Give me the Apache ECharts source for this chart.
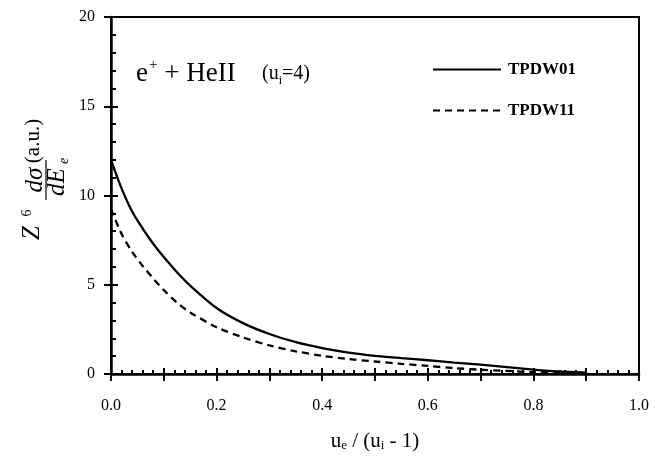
<!DOCTYPE html>
<html>
<head>
<meta charset="utf-8">
<script src="https://cdn.jsdelivr.net/npm/echarts@6/dist/echarts.min.js"></script>
<style>
  html, body { margin: 0; padding: 0; background: #fff; }
  #chartContainer { width: 655px; height: 457px; }
</style>
</head>
<body>
<div id="chartContainer"></div>
<script>
// 数据
const xValues = [0, 0.02, 0.04, 0.06, 0.08, 0.1, 0.125, 0.15, 0.2, 0.25, 0.3, 0.35, 0.4, 0.45, 0.5, 0.55, 0.6, 0.65, 0.7, 0.75, 0.8, 0.85, 0.9];
const tpdw01 = [12.0, 10.4, 9.1, 8.15, 7.3, 6.55, 5.7, 4.95, 3.7, 2.85, 2.24, 1.78, 1.45, 1.2, 1.02, 0.89, 0.77, 0.64, 0.52, 0.39, 0.25, 0.14, 0.08];
const tpdw11 = [9.25, 7.85, 6.85, 6.05, 5.35, 4.7, 4.0, 3.45, 2.62, 2.05, 1.6, 1.27, 1.02, 0.84, 0.7, 0.57, 0.45, 0.33, 0.24, 0.17, 0.1, 0.06, 0.04];
const xTickLabels = ["0.0", "0.2", "0.4", "0.6", "0.8", "1.0"];

const serif = "Liberation Serif";
const myChart = echarts.init(document.getElementById("chartContainer"));

function pairs(ys) {
  return xValues.map((x, i) => [x, ys[i]]);
}

// 刻度标签只显示 0.2 的倍数
function xLabel(v) {
  const s = v.toFixed(1);
  return xTickLabels.indexOf(s) >= 0 ? s : "";
}

const option = {
  animation: false,
  backgroundColor: "#fff",
  grid: {
    left: 111, right: 16, top: 17, bottom: 80,
    show: true, borderColor: "#000", borderWidth: 2, backgroundColor: "transparent"
  },
  legend: {
    orient: "vertical",
    left: 427, top: 56,
    itemWidth: 68, itemHeight: 16, itemGap: 24,
    itemStyle: { opacity: 0 },
    textStyle: { fontFamily: serif, fontSize: 17, fontWeight: "bold", color: "#000", padding: [0, 0, 0, 2] },
    data: ["TPDW01", "TPDW11"]
  },
  xAxis: [
    {
      type: "value", min: 0, max: 1, interval: 0.1, position: "bottom",
      axisLine: { lineStyle: { color: "#000", width: 2.5 } },
      axisTick: { inside: true, length: 6, lineStyle: { width: 2, color: "#000" } },
      minorTick: { show: true, splitNumber: 5, length: 4, lineStyle: { width: 2, color: "#000" } },
      splitLine: { show: false },
      axisLabel: { formatter: xLabel, margin: 24, fontFamily: serif, fontSize: 16, color: "#000" },
      name: "u{s|e} / (u{s|i} - 1)",
      nameLocation: "middle", nameGap: 56,
      nameTextStyle: {
        fontFamily: serif, fontSize: 21, color: "#000",
        rich: { s: { fontFamily: serif, fontSize: 13, verticalAlign: "bottom", padding: [9, 0, 0, 0] } }
      }
    },
    {
      type: "value", min: 0, max: 1, interval: 0.1, position: "bottom",
      axisLine: { show: false },
      axisTick: { inside: false, length: 7, lineStyle: { width: 2, color: "#000" } },
      axisLabel: { show: false },
      splitLine: { show: false }
    }
  ],
  yAxis: [
    {
      type: "value", min: 0, max: 20, interval: 5, position: "left",
      axisLine: { show: true, lineStyle: { color: "#000", width: 2.5 } },
      axisTick: { show: true, inside: true, length: 7, lineStyle: { width: 2, color: "#000" } },
      minorTick: { show: true, splitNumber: 5, length: 5, lineStyle: { width: 2, color: "#000" } },
      splitLine: { show: false },
      axisLabel: { margin: 16, fontFamily: serif, fontSize: 16, color: "#000" }
    },
    {
      type: "value", min: 0, max: 20, interval: 5, position: "left",
      axisLine: { show: false },
      axisTick: { show: true, inside: false, length: 7, lineStyle: { width: 2, color: "#000" } },
      axisLabel: { show: false },
      splitLine: { show: false }
    }
  ],
  series: [
    {
      name: "TPDW01", type: "line", smooth: 0.3, symbol: "none",
      data: pairs(tpdw01),
      lineStyle: { color: "#000", width: 2.3, type: "solid" },
      itemStyle: { color: "#000" }
    },
    {
      name: "TPDW11", type: "line", smooth: 0.3, symbol: "none",
      data: pairs(tpdw11),
      lineStyle: { color: "#000", width: 2.3, type: [7, 5] },
      itemStyle: { color: "#000" }
    }
  ],
  graphic: [
    // 标注文字
    {
      type: "text", left: 136, top: 55,
      style: {
        text: "{a|e}{sup|+}{a| + HeII}",
        rich: {
          a: { fontFamily: serif, fontSize: 27, fill: "#000", lineHeight: 32, verticalAlign: "bottom" },
          sup: { fontFamily: serif, fontSize: 15, fill: "#000", lineHeight: 32, verticalAlign: "top", padding: [3, 0, 0, 1] }
        }
      }
    },
    {
      type: "text", left: 262, top: 64,
      style: {
        text: "{b|(u}{sub|i}{b|=4)}",
        rich: {
          b: { fontFamily: serif, fontSize: 20, fill: "#000", lineHeight: 32, verticalAlign: "bottom", padding: [0, 0, 3, 0] },
          sub: { fontFamily: serif, fontSize: 12, fill: "#000", lineHeight: 32, verticalAlign: "bottom" }
        }
      }
    },
    // 纵轴标题(旋转)
    { type: "text", x: 32, y: 233, rotation: Math.PI / 2,
      style: { text: "Z", fontFamily: serif, fontStyle: "italic", fontSize: 25, fill: "#000", align: "center", verticalAlign: "middle" } },
    { type: "text", x: 27, y: 213, rotation: Math.PI / 2,
      style: { text: "6", fontFamily: serif, fontSize: 14, fill: "#000", align: "center", verticalAlign: "middle" } },
    { type: "text", x: 35, y: 180, rotation: Math.PI / 2,
      style: { text: "dσ", fontFamily: serif, fontStyle: "italic", fontSize: 25, fill: "#000", align: "center", verticalAlign: "middle" } },
    { type: "line", shape: { x1: 46, y1: 200, x2: 46, y2: 160 }, style: { stroke: "#000", lineWidth: 1.2 } },
    { type: "text", x: 57, y: 182, rotation: Math.PI / 2,
      style: { text: "dE", fontFamily: serif, fontStyle: "italic", fontSize: 25, fill: "#000", align: "center", verticalAlign: "middle" } },
    { type: "text", x: 64, y: 161, rotation: Math.PI / 2,
      style: { text: "e", fontFamily: serif, fontStyle: "italic", fontSize: 14, fill: "#000", align: "center", verticalAlign: "middle" } },
    { type: "text", x: 33, y: 141, rotation: Math.PI / 2,
      style: { text: "(a.u.)", fontFamily: serif, fontSize: 21, fill: "#000", align: "center", verticalAlign: "middle" } }
  ]
};

myChart.setOption(option);
</script>
</body>
</html>
